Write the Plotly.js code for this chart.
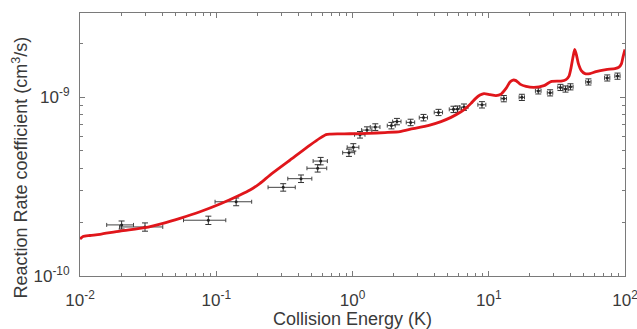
<!DOCTYPE html>
<html>
<head>
<meta charset="utf-8">
<script src="https://cdn.plot.ly/plotly-3.0.1.min.js"></script>
<style>html,body{margin:0;padding:0;background:#fff;}#chart{width:637px;height:329px;}</style>
</head>
<body>
<div id="chart"></div>
<script>
// Theory curve (collision energy in K, rate coefficient in cm^3/s)
var theoryE = [0.01,0.01052,0.01184,0.01402,0.01966,0.0300,0.04066,0.0542,0.0760,0.1065,0.1494,0.1769,0.2095,0.2480,0.3478,0.4876,0.5774,0.6390,0.6839,0.7829,0.9587,1.300,1.732,2.232,2.780,3.583,4.462,5.283,6.256,6.808,7.408,8.061,8.627,9.228,10.21,11.30,12.30,13.39,14.32,15.07,15.85,16.96,18.77,21.48,25.44,28.63,33.91,36.90,38.82,40.15,41.53,42.74,44.06,45.42,47.78,50.86,55.35,61.27,72.53,84.46,90.36,94.26,96.67,100];
var theoryK = [1.609e-10,1.663e-10,1.684e-10,1.710e-10,1.784e-10,1.862e-10,1.970e-10,2.101e-10,2.287e-10,2.525e-10,2.835e-10,3.023e-10,3.295e-10,3.667e-10,4.446e-10,5.393e-10,5.901e-10,6.173e-10,6.213e-10,6.229e-10,6.237e-10,6.269e-10,6.334e-10,6.416e-10,6.668e-10,6.931e-10,7.297e-10,7.702e-10,8.277e-10,8.679e-10,9.222e-10,9.872e-10,1.026e-9,1.046e-9,1.033e-9,1.020e-9,1.039e-9,1.118e-9,1.213e-9,1.245e-9,1.236e-9,1.182e-9,1.148e-9,1.133e-9,1.159e-9,1.221e-9,1.229e-9,1.253e-9,1.310e-9,1.452e-9,1.673e-9,1.847e-9,1.716e-9,1.543e-9,1.406e-9,1.353e-9,1.353e-9,1.388e-9,1.424e-9,1.443e-9,1.471e-9,1.539e-9,1.673e-9,1.847e-9];

// Experimental points
var expE = [0.0202,0.030,0.0875,0.140,0.310,0.419,0.555,0.584,0.942,1.014,1.135,1.277,1.47,1.93,2.12,2.67,3.32,4.28,5.51,5.90,6.58,8.92,12.9,17.5,23.1,28.2,33.6,36.6,39.8,53.9,74.1,88.1];
var expK = [1.93e-10,1.88e-10,2.05e-10,2.60e-10,3.13e-10,3.50e-10,4.00e-10,4.39e-10,4.89e-10,5.24e-10,6.16e-10,6.54e-10,6.80e-10,6.93e-10,7.30e-10,7.22e-10,7.68e-10,8.21e-10,8.54e-10,8.57e-10,8.79e-10,9.06e-10,9.81e-10,9.97e-10,1.083e-9,1.057e-9,1.133e-9,1.110e-9,1.142e-9,1.216e-9,1.280e-9,1.310e-9];
var expEerr = [0.0045,0.0105,0.030,0.042,0.070,0.084,0.092,0.070,0.095,0.10,0.10,0.11,0.12,0.13,0.15,0.19,0.23,0.30,0.38,0.41,0.46,0.60,0.60,0.80,1.1,1.3,1.5,1.7,1.8,2.4,3.3,3.9];
var expKerr = [0.10e-10,0.10e-10,0.11e-10,0.13e-10,0.15e-10,0.17e-10,0.19e-10,0.21e-10,0.23e-10,0.25e-10,0.26e-10,0.28e-10,0.29e-10,0.29e-10,0.30e-10,0.30e-10,0.32e-10,0.33e-10,0.35e-10,0.35e-10,0.36e-10,0.37e-10,0.40e-10,0.40e-10,0.42e-10,0.42e-10,0.45e-10,0.44e-10,0.45e-10,0.48e-10,0.50e-10,0.52e-10];

var xTickVals = [0.01,0.1,1,10,100];
var xTickText = ['10<sup>-2</sup>','10<sup>-1</sup>','10<sup>0</sup>','10<sup>1</sup>','10<sup>2</sup>'];
var yTickVals = [1e-10,1e-9];
var yTickText = ['10<sup>-10</sup>','10<sup>-9</sup>'];
var xTitle = 'Collision Energy (K)';
var yTitle = 'Reaction Rate coefficient (cm<sup>3</sup>/s)';

function minorVals(lo, hi){
  var v=[];
  for(var p=lo;p<hi;p++){ for(var m=2;m<=9;m++){ v.push(m*Math.pow(10,p)); } }
  return v;
}

var traces = [
  {x: expE, y: expK, type:'scatter', mode:'markers',
   marker:{color:'#222', size:3},
   error_x:{type:'data', array:expEerr, visible:true, color:'#444', thickness:1, width:2},
   error_y:{type:'data', array:expKerr, visible:true, color:'#333', thickness:1, width:3},
   hoverinfo:'skip'},
  {x: theoryE, y: theoryK, type:'scatter', mode:'lines',
   line:{color:'#e0161b', width:2.8, shape:'spline', smoothing:0.6},
   hoverinfo:'skip'}
];

var fontFam = 'Liberation Sans, Arial, sans-serif';
var axisCommon = {
  type:'log', showgrid:false, zeroline:false,
  showline:true, linecolor:'#7a7a7a', linewidth:1, mirror:'allticks',
  ticks:'inside', ticklen:5, tickcolor:'#7a7a7a', tickwidth:1,
  ticklabeloverflow:'allow',
  tickfont:{family:fontFam, size:17, color:'#3a3a3a'}
};

var layout = {
  width:637, height:329,
  margin:{l:80, r:12, t:13, b:53},
  paper_bgcolor:'#fff', plot_bgcolor:'#fff',
  showlegend:false,
  font:{family:fontFam, color:'#3a3a3a'},
  xaxis: Object.assign({}, axisCommon, {
    range:[-2, 2], tickmode:'array', tickvals:xTickVals, ticktext:xTickText,
    ticklabelstandoff:9,
    minor:{tickmode:'array', tickvals:minorVals(-2,2), ticks:'inside', ticklen:3, tickcolor:'#7a7a7a'},
    title:{text:xTitle, standoff:1, font:{size:18, color:'#3a3a3a'}}
  }),
  yaxis: Object.assign({}, axisCommon, {
    range:[-10, -8.53], tickmode:'array', tickvals:yTickVals, ticktext:yTickText,
    ticklabelstandoff:6,
    minor:{tickmode:'array', tickvals:minorVals(-10,-8), ticks:'inside', ticklen:3, tickcolor:'#7a7a7a'}
  }),
  annotations:[{
    text:yTitle, xref:'paper', yref:'paper', x:-0.110, y:0.4125,
    xanchor:'center', yanchor:'middle', textangle:-90, showarrow:false,
    font:{family:fontFam, size:18, color:'#3a3a3a'}
  }]
};

Plotly.newPlot('chart', traces, layout, {staticPlot:true, displayModeBar:false});
</script>
</body>
</html>
